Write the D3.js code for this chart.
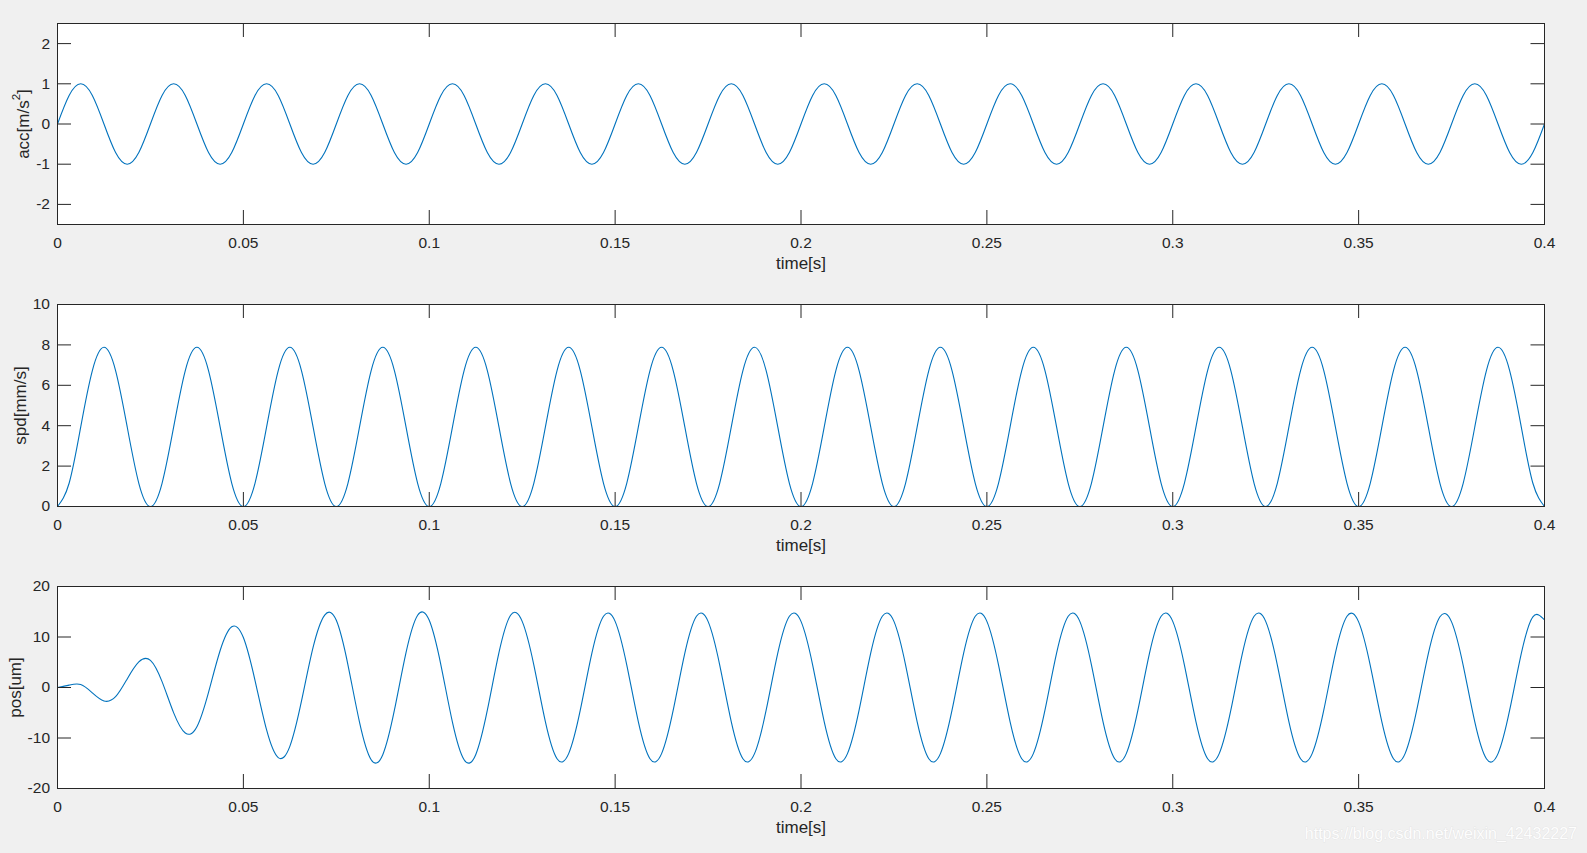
<!DOCTYPE html>
<html>
<head>
  <meta charset="utf-8">
  <title>acc / spd / pos</title>
  <script src="https://d3js.org/d3.v7.min.js"></script>
  <style>
  body {margin: 0; background-color: #f0f0f0;}
  #fig {display: block; color: #262626; font-family: "Liberation Sans", Arial, sans-serif;}
  .frame {fill: white; stroke: none;}
  .outline {fill: none; stroke: #262626; stroke-width: 1px;}
  .curve {fill: none; stroke: #0072bd; stroke-width: 1.1px;}
  .axisLabel {fill: #262626; font-size: 17px; text-anchor: middle;}
  #watermark {font-size: 16px; text-anchor: end; fill: #fdfdfd; stroke: #dedede; stroke-width: 0.6px; paint-order: stroke;}
  </style>
</head>
<body>
  <svg id="fig" width="1587" height="853"></svg>
  <script>
  // sample times in ms, one sample every 1/8 of the 25 ms period
  var timeMs = [
    0, 3.125, 6.25, 9.375, 12.5, 15.625, 18.75, 21.875,
    25, 28.125, 31.25, 34.375, 37.5, 40.625, 43.75, 46.875,
    50, 53.125, 56.25, 59.375, 62.5, 65.625, 68.75, 71.875,
    75, 78.125, 81.25, 84.375, 87.5, 90.625, 93.75, 96.875,
    100, 103.125, 106.25, 109.375, 112.5, 115.625, 118.75, 121.875,
    125, 128.125, 131.25, 134.375, 137.5, 140.625, 143.75, 146.875,
    150, 153.125, 156.25, 159.375, 162.5, 165.625, 168.75, 171.875,
    175, 178.125, 181.25, 184.375, 187.5, 190.625, 193.75, 196.875,
    200, 203.125, 206.25, 209.375, 212.5, 215.625, 218.75, 221.875,
    225, 228.125, 231.25, 234.375, 237.5, 240.625, 243.75, 246.875,
    250, 253.125, 256.25, 259.375, 262.5, 265.625, 268.75, 271.875,
    275, 278.125, 281.25, 284.375, 287.5, 290.625, 293.75, 296.875,
    300, 303.125, 306.25, 309.375, 312.5, 315.625, 318.75, 321.875,
    325, 328.125, 331.25, 334.375, 337.5, 340.625, 343.75, 346.875,
    350, 353.125, 356.25, 359.375, 362.5, 365.625, 368.75, 371.875,
    375, 378.125, 381.25, 384.375, 387.5, 390.625, 393.75, 396.875,
    400
  ];

  // acc [m/s^2]
  var accData = [
    0, 0.71, 1, 0.71, 0, -0.71, -1, -0.71,
    0, 0.71, 1, 0.71, 0, -0.71, -1, -0.71,
    0, 0.71, 1, 0.71, 0, -0.71, -1, -0.71,
    0, 0.71, 1, 0.71, 0, -0.71, -1, -0.71,
    0, 0.71, 1, 0.71, 0, -0.71, -1, -0.71,
    0, 0.71, 1, 0.71, 0, -0.71, -1, -0.71,
    0, 0.71, 1, 0.71, 0, -0.71, -1, -0.71,
    0, 0.71, 1, 0.71, 0, -0.71, -1, -0.71,
    0, 0.71, 1, 0.71, 0, -0.71, -1, -0.71,
    0, 0.71, 1, 0.71, 0, -0.71, -1, -0.71,
    0, 0.71, 1, 0.71, 0, -0.71, -1, -0.71,
    0, 0.71, 1, 0.71, 0, -0.71, -1, -0.71,
    0, 0.71, 1, 0.71, 0, -0.71, -1, -0.71,
    0, 0.71, 1, 0.71, 0, -0.71, -1, -0.71,
    0, 0.71, 1, 0.71, 0, -0.71, -1, -0.71,
    0, 0.71, 1, 0.71, 0, -0.71, -1, -0.71,
    0
  ];

  // spd [mm/s]
  var spdData = [
    0, 1.15, 3.94, 6.73, 7.88, 6.73, 3.94, 1.15,
    0, 1.15, 3.94, 6.73, 7.88, 6.73, 3.94, 1.15,
    0, 1.15, 3.94, 6.73, 7.88, 6.73, 3.94, 1.15,
    0, 1.15, 3.94, 6.73, 7.88, 6.73, 3.94, 1.15,
    0, 1.15, 3.94, 6.73, 7.88, 6.73, 3.94, 1.15,
    0, 1.15, 3.94, 6.73, 7.88, 6.73, 3.94, 1.15,
    0, 1.15, 3.94, 6.73, 7.88, 6.73, 3.94, 1.15,
    0, 1.15, 3.94, 6.73, 7.88, 6.73, 3.94, 1.15,
    0, 1.15, 3.94, 6.73, 7.88, 6.73, 3.94, 1.15,
    0, 1.15, 3.94, 6.73, 7.88, 6.73, 3.94, 1.15,
    0, 1.15, 3.94, 6.73, 7.88, 6.73, 3.94, 1.15,
    0, 1.15, 3.94, 6.73, 7.88, 6.73, 3.94, 1.15,
    0, 1.15, 3.94, 6.73, 7.88, 6.73, 3.94, 1.15,
    0, 1.15, 3.94, 6.73, 7.88, 6.73, 3.94, 1.15,
    0, 1.15, 3.94, 6.73, 7.88, 6.73, 3.94, 1.15,
    0, 1.15, 3.94, 6.73, 7.88, 6.73, 3.94, 1.15,
    0
  ];

  // pos [um]
  var posData = [
    0, 0.47, 0.58, -1.07, -2.66, -1.83, 1.70, 5.07,
    5.38, 1.17, -5.02, -9.01, -7.77, -0.96, 7.32, 12.02,
    9.89, 1.43, -8.41, -13.88, -11.65, -2.71, 7.94, 14.34,
    13.3, 4.5, -6.9, -14.3, -13.3, -4.5, 6.9, 14.3,
    13.3, 4.5, -6.9, -14.3, -13.3, -4.5, 6.9, 14.3,
    13.1, 4.5, -6.8, -14.1, -13.1, -4.5, 6.8, 14.1,
    13.1, 4.5, -6.8, -14.1, -13.1, -4.5, 6.8, 14.1,
    13.1, 4.5, -6.8, -14.1, -13.1, -4.5, 6.8, 14.1,
    13.1, 4.5, -6.8, -14.1, -13.1, -4.5, 6.8, 14.1,
    13.1, 4.5, -6.8, -14.1, -13.1, -4.5, 6.8, 14.1,
    13.1, 4.5, -6.8, -14.1, -13.1, -4.5, 6.8, 14.1,
    13.1, 4.5, -6.8, -14.1, -13.1, -4.5, 6.8, 14.1,
    13.1, 4.5, -6.8, -14.1, -13.1, -4.5, 6.8, 14.1,
    13.1, 4.5, -6.8, -14.1, -13.1, -4.5, 6.8, 14.1,
    13.0, 4.4, -6.8, -14.1, -13.1, -4.5, 6.7, 14.0,
    13.0, 4.4, -6.8, -14.1, -13.1, -4.5, 6.7, 14.0,
    13.4
  ];

  var xTicks = [0, 0.05, 0.1, 0.15, 0.2, 0.25, 0.3, 0.35, 0.4];
  var xTickLabels = ["0", "0.05", "0.1", "0.15", "0.2", "0.25", "0.3", "0.35", "0.4"];
  var accTicks = [-2, -1, 0, 1, 2];
  var spdTicks = [0, 2, 4, 6, 8, 10];
  var posTicks = [-20, -10, 0, 10, 20];
  var accLimits = [-2.5, 2.5];
  var spdLimits = [0, 10];
  var posLimits = [-20, 20];

  var svg = d3.select("#fig");
  var left = 57, right = 1544, tickLen = 14;

  var panels = [
    {values: accData, ticks: accTicks, limits: accLimits, top: 23, bottom: 224, labelX: 28.5, label: "acc"},
    {values: spdData, ticks: spdTicks, limits: spdLimits, top: 304, bottom: 506, labelX: 26, label: "spd[mm/s]"},
    {values: posData, ticks: posTicks, limits: posLimits, top: 586, bottom: 788, labelX: 20.5, label: "pos[um]"}
  ];

  var x = d3.scaleLinear().domain([0, 0.4]).range([left, right]);

  function styleAxis(g) {
    g.select(".domain").remove();
    g.attr("font-family", null).attr("font-size", 15.5);
  }

  panels.forEach(function(p, i) {
    var y = d3.scaleLinear().domain(p.limits).range([p.bottom, p.top]);
    var g = svg.append("g");

    g.append("rect")
      .attr("class", "frame")
      .attr("x", left + 0.5)
      .attr("y", p.top + 0.5)
      .attr("width", right - left)
      .attr("height", p.bottom - p.top);

    svg.append("clipPath").attr("id", "clip" + i)
      .append("rect")
      .attr("x", left)
      .attr("y", p.top)
      .attr("width", right - left + 1)
      .attr("height", p.bottom - p.top + 1);

    var line = d3.line()
      .curve(d3.curveNatural)
      .x(function(d, j) { return x(timeMs[j] / 1000) + 0.5; })
      .y(function(d) { return y(d) + 0.5; });

    g.append("path")
      .datum(p.values)
      .attr("class", "curve")
      .attr("clip-path", "url(#clip" + i + ")")
      .attr("d", line);

    // ticks on all four sides, pointing inward
    g.append("g")
      .attr("transform", "translate(0," + p.bottom + ")")
      .call(d3.axisBottom(x).tickValues(xTicks)
        .tickFormat(function(d, j) { return xTickLabels[j]; })
        .tickSize(-tickLen).tickSizeOuter(0).tickPadding(12.5))
      .call(styleAxis);

    g.append("g")
      .attr("transform", "translate(0," + p.top + ")")
      .call(d3.axisTop(x).tickValues(xTicks).tickFormat("")
        .tickSize(-tickLen).tickSizeOuter(0))
      .call(styleAxis);

    g.append("g")
      .attr("transform", "translate(" + left + ",0)")
      .call(d3.axisLeft(y).tickValues(p.ticks).tickFormat(String)
        .tickSize(-tickLen).tickSizeOuter(0).tickPadding(7))
      .call(styleAxis);

    g.append("g")
      .attr("transform", "translate(" + (right + 0.5) + ",0)")
      .call(d3.axisRight(y).tickValues(p.ticks).tickFormat("")
        .tickSize(-tickLen).tickSizeOuter(0))
      .call(styleAxis);

    g.append("rect")
      .attr("class", "outline")
      .attr("x", left + 0.5)
      .attr("y", p.top + 0.5)
      .attr("width", right - left)
      .attr("height", p.bottom - p.top);

    // axis labels
    g.append("text")
      .attr("class", "axisLabel")
      .attr("x", (left + right) / 2 + 0.5)
      .attr("y", p.bottom + 45)
      .text("time[s]");

    var yl = g.append("text")
      .attr("class", "axisLabel")
      .attr("transform", "translate(" + p.labelX + "," + ((p.top + p.bottom) / 2 + 0.5) + ") rotate(-90)");
    if (p.label == "acc") {
      yl.append("tspan").text("acc[m/s");
      yl.append("tspan").attr("font-size", 11.5).attr("dy", -9).text("2");
      yl.append("tspan").attr("dy", 9).text("]");
    } else {
      yl.text(p.label);
    }
  });

  svg.append("text")
    .attr("id", "watermark")
    .attr("x", 1577)
    .attr("y", 839)
    .text("https://blog.csdn.net/weixin_42432227");
  </script>
</body>
</html>
